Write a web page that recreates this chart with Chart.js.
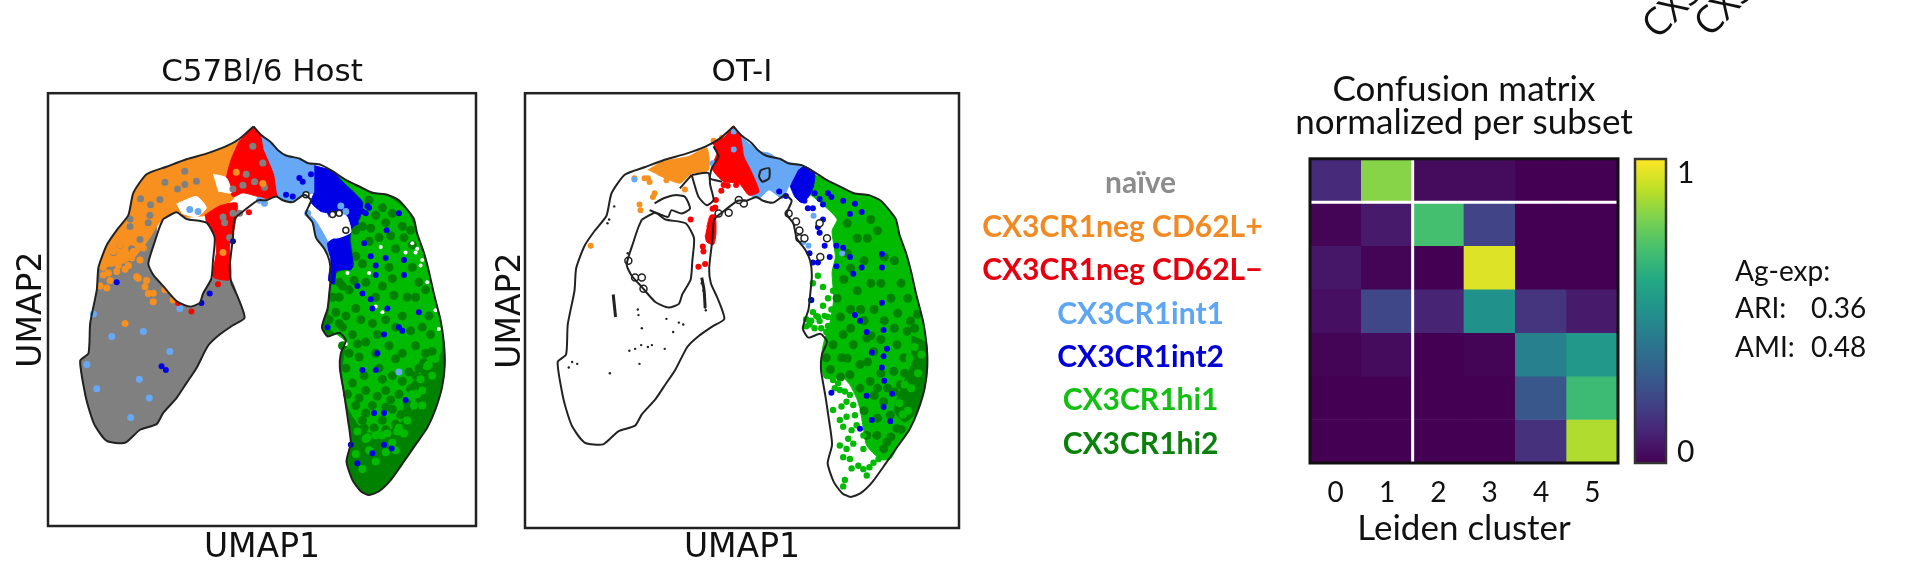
<!DOCTYPE html>
<html>
<head>
<meta charset="utf-8">
<script src="https://cdn.jsdelivr.net/npm/chart.js@4"></script>
<style>
html,body{margin:0;padding:0;background:#fff;width:1920px;height:584px;overflow:hidden;position:relative}
canvas{position:absolute;display:block;filter:blur(0.5px)}
.t{position:absolute;font-family:Lato,sans-serif;color:#111;white-space:pre;font-size:28px;line-height:30px}
.r{position:absolute;font-family:"Open Sans",sans-serif;color:#111;white-space:pre;font-size:38px;line-height:40px;transform-origin:0 100%;transform:rotate(-45deg)}
</style>
</head>
<body>
<canvas id="p1" style="left:0;top:40px"></canvas>
<canvas id="p2" style="left:480px;top:40px"></canvas>
<canvas id="hm" style="left:960px;top:40px"></canvas>
<canvas id="cb" style="left:1620px;top:140px"></canvas>
<span class="r" style="left:1661px;top:4px">CX3CR1</span>
<span class="r" style="left:1713px;top:2px">CX3CR1</span>
<span class="t" style="left:1735px;top:255px">Ag-exp:</span>
<span class="t" style="left:1735px;top:292px">ARI:</span><span class="t" style="left:1811px;top:292px">0.36</span>
<span class="t" style="left:1735px;top:331px">AMI:</span><span class="t" style="left:1811px;top:331px">0.48</span>
<script>
// ---- UMAP outline and regions (arbitrary UMAP units) ----
const UMAP1_RANGE=[143,1432];
const UMAP2_RANGE=[253,1413];
const outline=[[762,342],[785,365],[815,385],[835,405],[860,420],[900,428],[925,440],[965,445],[1000,462],[1040,485],[1085,505],[1120,520],[1165,525],[1200,540],[1225,565],[1245,590],[1255,630],[1275,680],[1290,730],[1305,790],[1325,860],[1335,920],[1338,980],[1330,1040],[1310,1100],[1285,1150],[1250,1195],[1215,1240],[1175,1290],[1140,1320],[1110,1330],[1085,1320],[1060,1290],[1042,1240],[1055,1190],[1045,1120],[1035,1060],[1022,990],[1025,950],[1040,915],[1020,895],[985,905],[968,880],[985,830],[990,790],[995,740],[990,700],[975,670],[950,640],[940,600],[920,575],[935,540],[915,525],[880,545],[850,540],[830,530],[800,540],[775,540],[730,570],[705,590],[700,640],[690,720],[695,760],[715,800],[735,855],[700,875],[660,900],[625,930],[590,990],[560,1030],[530,1070],[490,1110],[470,1140],[420,1155],[375,1190],[320,1185],[285,1145],[270,1110],[255,1060],[240,970],[265,950],[270,870],[290,780],[295,720],[320,660],[350,620],[385,580],[400,520],[440,470],[500,450],[560,430],[620,415],[680,395],[720,375],[762,342]];
const hole=[[490,590],[530,572],[560,590],[620,600],[645,640],[640,700],[635,750],[610,790],[600,815],[570,825],[530,810],[490,770],[460,740],[445,710],[465,650],[480,610],[490,590]];
const grayRegion=[[295,720],[290,780],[270,870],[265,950],[240,970],[255,1060],[270,1110],[285,1145],[320,1185],[375,1190],[420,1155],[470,1140],[490,1110],[530,1070],[560,1030],[590,990],[625,930],[660,900],[700,875],[735,855],[715,800],[695,755],[640,748],[610,790],[600,815],[570,825],[530,810],[490,770],[460,740],[445,710],[465,650],[470,610],[450,640],[400,695],[340,715]];
const orangeRegion=[[295,725],[320,660],[350,620],[385,580],[400,520],[440,470],[500,450],[560,430],[620,415],[680,395],[735,378],[695,430],[680,490],[705,530],[660,565],[620,580],[550,585],[530,570],[490,590],[470,610],[450,640],[400,695],[340,715]];
const redTop=[[762,342],[785,365],[792,400],[825,470],[838,525],[800,535],[775,530],[730,520],[700,530],[680,485],[695,430],[720,380]];
const redStalk=[[615,580],[660,555],[712,548],[705,610],[690,660],[692,752],[640,745],[650,680],[645,630],[622,620]];
const lightBlueTop=[[785,365],[815,385],[835,405],[860,420],[900,428],[925,440],[950,448],[945,520],[915,522],[880,545],[850,540],[835,525],[825,470],[792,400]];
const lightBlueLow=[[920,575],[945,590],[985,650],[995,690],[975,670],[950,640],[940,600]];
const blueRegion=[[945,447],[1000,462],[1030,490],[1090,545],[1080,590],[1055,620],[1052,650],[1060,720],[1012,730],[1005,765],[988,755],[995,700],[985,655],[1005,640],[985,575],[965,570],[935,545],[945,520]];
const greenAll=[[1000,462],[1040,485],[1085,505],[1120,520],[1165,525],[1200,540],[1225,565],[1245,590],[1255,630],[1275,680],[1290,730],[1305,790],[1325,860],[1335,920],[1338,980],[1330,1040],[1310,1100],[1285,1150],[1250,1195],[1215,1240],[1175,1290],[1140,1320],[1110,1330],[1085,1320],[1060,1290],[1042,1240],[1055,1190],[1045,1120],[1035,1060],[1022,990],[1025,950],[1040,915],[1020,895],[985,905],[968,880],[985,830],[990,790],[995,760],[1012,730],[1060,720],[1052,650],[1055,620],[1080,590],[1090,545],[1030,490]];
const greenLight=[[1020,480],[1085,510],[1165,530],[1225,570],[1255,640],[1290,740],[1325,870],[1325,950],[1265,1000],[1240,1100],[1180,1150],[1100,1160],[1050,1100],[1030,1000],[1040,920],[990,880],[1000,760],[1015,735],[1065,720],[1058,650],[1060,620],[1085,590],[1095,545]];
const gapA=[[640,470],[680,480],[695,520],[655,515]];
const gapB=[[530,550],[590,530],[620,560],[590,585],[545,575]];
const gapC=[[990,575],[1040,580],[1055,625],[1020,640],[1000,640],[985,600]];
// scattered cells, host panel
const hostGrayCells=[[495,492],[533,510],[555,498],[590,489],[422,536],[480,538],[452,552],[555,462],[445,600],[390,590],[450,580],[390,610],[420,645],[360,660],[395,670],[340,680],[760,395],[740,470],[765,490],[790,440],[730,500],[700,510],[675,600],[690,640],[670,585],[700,575],[795,505],[720,575]];
const hostOrangeCells=[[370,700],[400,677],[430,668],[395,695],[420,700],[360,659],[340,677],[335,709],[350,731],[415,749],[435,772],[460,789],[460,812],[495,780],[520,807],[320,775],[310,720],[375,870],[365,700],[410,745],[790,495],[710,465],[670,680],[310,740],[330,755],[300,770],[345,700],[385,715],[440,755],[355,715],[325,735],[375,725],[445,790]];
const hostLightBlueCells=[[280,845],[335,905],[430,892],[510,945],[260,980],[418,1020],[290,1045],[448,1070],[392,1122],[540,830],[1200,1000],[795,548],[780,540],[925,575],[595,570],[570,565],[1040,570],[1025,555]];
const hostBlueCells=[[350,760],[485,985],[498,995],[630,790],[605,815],[1200,575],[1163,620],[1095,655],[1115,690],[1160,695],[1130,715],[1215,700],[1050,720],[1130,740],[1215,740],[1075,770],[1090,790],[1115,805],[1165,830],[1120,830],[1260,840],[1200,880],[1210,890],[1155,900],[1135,950],[1090,995],[1130,995],[1220,1075],[1155,1110],[1125,1110],[1120,1218],[1155,1195],[1075,1245],[1178,1205],[985,880],[1055,1195],[860,525],[700,650],[1100,575],[1110,560],[935,470],[910,490],[900,480],[880,530],[1090,570],[1105,555],[1070,600]];
const hostRedCells=[[655,765],[575,838],[535,815],[748,572]];
const hostDarkGreenCells=[[1130,580],[1160,600],[1090,610],[1210,610],[1140,640],[1070,690],[1110,650],[1190,670],[1240,660],[1020,800],[1050,780],[1010,840],[1100,760],[1150,770],[1180,750],[1040,850],[1070,830],[1120,870],[1160,860],[1210,850],[1250,800],[1280,780],[1270,880],[1030,880],[1060,900],[1100,920],[1170,930],[1210,950],[1250,930],[1295,900],[1050,950],[1080,960],[1140,990],[1180,1010],[1230,1000],[1060,1030],[1100,1050],[1160,1050],[1200,1060],[1260,990],[1070,1090],[1120,1090],[1180,1100],[1230,1120],[1090,1130],[1150,1130],[990,860],[1020,760],[1000,800],[1110,540],[1180,575],[1150,560],[1235,620],[1070,620],[1115,615],[1175,635],[1215,640],[1090,710],[1170,720],[1240,720],[1260,760],[1030,770],[1065,755],[1130,800],[1185,795],[1225,800],[1020,870],[1085,860],[1135,900],[1190,880],[1235,890],[1290,850],[1030,930],[1075,925],[1130,950],[1190,965],[1280,950],[1040,990],[1095,1010],[1150,1020],[1210,1025],[1250,1035],[1045,1060],[1135,1065],[1080,1070],[1175,1075],[1225,1085],[1100,1110],[1160,1095],[1205,1115],[1060,1140],[1300,945],[1275,975],[1250,1010],[1235,1045],[1225,1100],[1190,1140],[1160,1155],[1125,1150],[1095,1150]];
const hostLightGreenCells=[[1100,1180],[1150,1170],[1200,1150],[1070,1220],[1130,1240],[1190,1210],[1270,1050],[1290,980],[1240,1060],[1110,1210],[1160,1215],[1090,1260],[980,547],[1000,493],[1050,502],[1080,547],[1060,529],[1310,965],[1285,985],[1265,1020],[1255,1060],[1245,1090],[1225,1130],[1195,1160],[1165,1165],[1130,1170],[1105,1175],[1075,1160],[1300,1010],[1270,1090],[1215,1165],[1180,1190]];
const hostWhiteFlecks=[[1220,680],[1250,680],[1265,715],[1145,665],[1130,825],[1270,700],[1255,670],[1285,760],[1310,835],[1320,885],[1150,840],[1040,925],[1110,735],[1045,735],[1240,655]];
const hostOpenCells=[[920,525],[1000,578],[1020,575],[1040,620]];
// scattered cells, OT-I panel
const otiOrangeRegion=[[508,458],[553,435],[628,422],[683,399],[688,458],[638,467],[603,493],[538,471]];
const otiOrangeCells=[[468,480],[498,480],[513,490],[528,520],[523,530],[483,550],[486,565],[338,660],[508,480],[618,510],[563,485],[703,380],[728,372]];
const otiRedRegion=[[763,339],[783,368],[793,422],[813,458],[838,516],[808,525],[778,493],[733,489],[698,453],[713,413],[703,386],[733,372]];
const otiRedStalk=[[683,610],[693,579],[708,579],[710,628],[703,657],[683,650],[678,632]];
const otiRedCells=[[708,558],[700,561],[671,662],[673,675],[658,716],[678,709],[635,590],[710,538],[726,513],[733,498],[770,498],[745,500]];
const otiLightBlue=[[783,368],[838,408],[868,413],[908,435],[963,444],[968,458],[928,498],[908,534],[868,511],[838,534],[813,525],[838,516],[813,458],[793,422]];
const otiLightBlueCells=[[468,483],[700,440],[970,650],[985,660],[1085,680],[1000,580],[763,355],[763,403]];
const otiBlue=[[953,460],[973,448],[1003,465],[1000,500],[985,530],[965,545],[945,530],[930,500]];
const otiBlueCells=[[1003,520],[1018,535],[983,560],[958,525],[1043,520],[1088,540],[1028,590],[1013,610],[1018,625],[1038,640],[1068,660],[1048,690],[1013,705],[998,705],[1068,715],[988,680],[918,527],[898,515],[1033,660],[1053,530],[973,540],[998,560],[1028,550],[1123,548],[1143,570],[1108,575],[1203,682],[1088,665],[1108,690],[1143,718],[1203,718],[1118,735],[1203,812],[1123,845],[1138,860],[1158,890],[1208,885],[1173,945],[1218,935],[1208,955],[1203,985],[1210,1020],[1233,1055],[1208,1090],[1173,1125],[1138,1148],[1053,1052],[993,805],[1228,1128],[1158,1060]];
const otiGreen=[[1000,470],[1040,485],[1085,505],[1120,520],[1165,525],[1200,540],[1225,565],[1245,590],[1255,630],[1275,680],[1290,730],[1305,790],[1325,860],[1335,920],[1338,980],[1330,1040],[1310,1100],[1285,1150],[1250,1195],[1228,1229],[1198,1229],[1158,1193],[1148,1148],[1138,1094],[1128,1067],[1108,1031],[1088,1013],[1033,1013],[1023,960],[1030,920],[1050,860],[1060,800],[1055,730],[1065,690],[1055,620],[1070,590],[1040,560],[1000,530],[970,510],[990,480]];
const otiDarkPatch=[[1290,900],[1335,920],[1338,980],[1330,1040],[1300,1110],[1270,1130],[1240,1100],[1260,1040],[1290,980]];
const otiDarkCells=[[1088,897],[1058,924],[1083,959],[1118,924],[1158,906],[1038,959],[1138,977],[1108,1004],[1178,942],[1248,924],[1278,888],[1288,861],[1308,843],[1268,959],[1238,995],[1168,1022],[1258,1031],[1208,1076],[1288,1076],[1268,1103],[1188,1166],[1218,1184],[1158,1166],[1208,1202],[1248,1148],[1228,1112],[1138,1040],[1130,640],[1100,600],[1150,700],[1090,750],[1190,620],[1230,800],[1130,780],[1180,830],[1240,880],[1110,830],[1070,800],[1170,900],[1160,640],[1200,760],[1260,760],[1100,680],[1170,590],[1210,690],[1240,700],[1110,720],[1170,760],[1080,850],[1150,860],[1210,860],[1280,800],[1300,880],[1100,960],[1200,1000],[1050,990],[1080,1010],[1160,970],[1220,1040],[1180,1060],[1150,1100],[1190,1120],[1240,1050],[1260,1150],[1230,1170],[1270,1000],[1190,1040],[1110,880],[1200,910],[1140,830],[1250,840]];
const otiLightCells=[[1300,930],[1285,960],[1270,1030],[1255,1080],[1290,1040],[1310,1000],[1280,1100],[1320,950],[1265,1110]];
const otiFringeCells=[[998,837],[1018,861],[988,870],[978,856],[1008,847],[1033,847],[1058,852],[1043,874],[1058,1018],[1073,1027],[1063,1040],[1078,1045],[1093,1049],[1108,1058],[1058,1098],[1083,1089],[1098,1076],[1118,1085],[1078,1125],[1098,1116],[1123,1112],[1088,1143],[1113,1152],[1128,1139],[1103,1175],[1078,1193],[1098,1202],[1118,1188],[1088,1224],[1108,1229],[1133,1247],[1113,1254],[1148,1256],[1166,1251],[1178,1239],[1158,1273],[1093,1285],[1088,1302],[1148,1202],[1168,1184],[1193,1229],[1208,1224],[1148,1166],[993,805],[998,760],[1013,740],[1028,770],[1043,800],[1028,820],[1013,850],[993,860],[978,875],[1003,880],[1023,880],[1043,850],[1058,780],[1053,830],[1038,890]];
const loopA=[[528,547],[553,534],[588,525],[618,529],[633,561],[608,574],[578,565],[568,583],[538,574],[513,565]];
const loopB=[[638,471],[658,529],[683,552],[703,538],[693,498],[688,466],[638,471]];
const loopC=[[703,395],[718,422],[698,453],[693,480],[728,489]];
const loopD=[[603,507],[638,471]];
const loopE=[[405,790],[412,850]];
const loopF=[[668,745],[675,780],[678,825]];
const loopG=[[843,458],[868,453],[868,480],[848,489],[838,475],[843,458]];
const openCellsOti=[[718,574],[748,572],[793,547],[778,538],[926,574],[948,595],[958,619],[958,640],[973,640],[1018,600],[1040,640],[1020,690],[450,700],[470,745],[490,745],[495,775]];
const specks=[[478,830],[480,845],[453,940],[488,925],[508,930],[483,975],[558,935],[583,890],[613,870],[563,855],[283,970],[273,985],[298,975],[388,600],[408,555],[678,825],[673,780],[668,760],[393,590],[448,680],[520,925],[470,935],[600,865],[490,880],[680,832],[395,1000]];
// ---- confusion matrix ----
const subsets=['naïve','CX3CR1neg CD62L+','CX3CR1neg CD62L−','CX3CR1int1','CX3CR1int2','CX3CR1hi1','CX3CR1hi2'];
const subsetColors=['#8c8c8c','#f28a24','#e6000f','#5ea6f2','#0000d6','#12c012','#0b800b'];
const clusters=['0','1','2','3','4','5'];
const rowNaive=[0.12,0.82,0.03,0.03,0.00,0.00];
const rowNegPlus=[0.01,0.07,0.70,0.20,0.00,0.00];
const rowNegMinus=[0.06,0.01,0.00,0.95,0.00,0.00];
const rowInt1=[0.04,0.21,0.10,0.50,0.15,0.07];
const rowInt2=[0.01,0.03,0.00,0.01,0.43,0.53];
const rowHi1=[0.00,0.00,0.00,0.00,0.27,0.68];
const rowHi2=[0.00,0.00,0.00,0.00,0.14,0.88];
const matrixRows=[rowNaive,rowNegPlus,rowNegMinus,rowInt1,rowInt2,rowHi1,rowHi2];
const splitCluster=2, splitSubset=1;
const viridis=['#440154','#482475','#414487','#355f8d','#2a788e','#21918c','#22a884','#44bf70','#7ad151','#bddf26','#fde725'];

function hex(c){return [1,3,5].map(i=>parseInt(c.substr(i,2),16));}
function cmap(v){const t=Math.max(0,Math.min(1,v))*10,i=Math.min(9,Math.floor(t)),f=t-i,a=hex(viridis[i]),b=hex(viridis[i+1]);
  return 'rgb('+a.map((x,k)=>Math.round(x+(b[k]-x)*f)).join(',')+')';}
const xy=a=>a.map(p=>({x:p[0],y:p[1]}));
Chart.defaults.animation=false;
Chart.defaults.responsive=false;
const frame=(w,col)=>({id:'frame',afterDraw(c){const a=c.chartArea,g=c.ctx;g.save();g.strokeStyle=col;g.lineWidth=w;g.strokeRect(a.left,a.top,a.right-a.left,a.bottom-a.top);g.restore();}});
const poly=(pts,color)=>({data:xy(pts),showLine:true,fill:'shape',backgroundColor:color,borderColor:color,borderWidth:1,pointRadius:0,tension:0.2});
const line=(pts,w)=>({data:xy(pts),showLine:true,fill:false,borderColor:'#222',borderWidth:w||2,pointRadius:0,tension:0.2});
const dots=(pts,color,r,edge)=>({data:xy(pts),showLine:false,backgroundColor:color,borderColor:edge||color,borderWidth:edge?1.5:0,pointRadius:r});
const GRAY='#808080',ORANGE='#f7901e',RED='#ff0000',LBLUE='#66a8f5',BLUE='#0000e6',LGREEN='#00bb00',DGREEN='#008200';
const AXF={family:'DejaVu Sans',size:33};

function umap(id,w,h,pad,left,bottom,title,ds){
  const cv=document.getElementById(id);cv.width=w;cv.height=h;
  ds.forEach((d,i)=>{d.order=ds.length-i;});
  return new Chart(cv,{type:'scatter',data:{datasets:ds},plugins:[frame(2.5,'#222')],options:{
    layout:{padding:pad},
    plugins:{legend:{display:false},tooltip:{enabled:false},
      title:{display:true,fullSize:false,text:title,color:'#111',font:{family:'DejaVu Sans',size:31,weight:'normal'},padding:{top:14,bottom:2}}},
    scales:{
      x:{min:UMAP1_RANGE[0],max:UMAP1_RANGE[1],ticks:{display:false},grid:{display:false},border:{display:false},
         title:{display:true,text:'UMAP1',color:'#111',font:AXF,padding:0},afterFit(s){s.height=bottom;}},
      y:{reverse:true,min:UMAP2_RANGE[0],max:UMAP2_RANGE[1],ticks:{display:false},grid:{display:false},border:{display:false},
         title:{display:true,text:'UMAP2',color:'#111',font:AXF,padding:0},afterFit(s){s.width=left;}}
    }}});
}
umap('p1',500,540,{left:13,right:24,top:0,bottom:12},35,42,'C57Bl/6 Host',[
  poly(grayRegion,GRAY),poly(orangeRegion,ORANGE),poly(redTop,RED),poly(redStalk,RED),
  poly(lightBlueTop,LBLUE),poly(lightBlueLow,LBLUE),poly(greenAll,DGREEN),poly(greenLight,LGREEN),
  dots(hostDarkGreenCells,DGREEN,4.5),dots(hostLightGreenCells,LGREEN,4),poly(blueRegion,BLUE),
  poly(gapA,'#fff'),poly(gapB,'#fff'),poly(gapC,'#fff'),
  dots(hostWhiteFlecks,'#fff',2),dots(hostGrayCells,GRAY,3.5),dots(hostOrangeCells,ORANGE,3.5),
  dots(hostLightBlueCells,LBLUE,3.5),dots(hostBlueCells,BLUE,3),dots(hostRedCells,RED,3),
  dots(hostOpenCells,'#fff',3,'#222'),
  line(outline,2),{...poly(hole,'#fff'),borderColor:'#222',borderWidth:2}
]);
umap('p2',500,540,{left:12,right:21,top:0,bottom:12},33,40,'OT-I',[
  poly(otiGreen,LGREEN),poly(otiDarkPatch,DGREEN),dots(otiDarkCells,DGREEN,4.5),dots(otiLightCells,LGREEN,4),dots(otiFringeCells,LGREEN,3.2),
  poly(otiOrangeRegion,ORANGE),dots(otiOrangeCells,ORANGE,3),poly(otiLightBlue,LBLUE),poly(otiRedRegion,RED),poly(otiRedStalk,RED),
  dots(otiRedCells,RED,3),dots(otiLightBlueCells,LBLUE,3),poly(otiBlue,BLUE),dots(otiBlueCells,BLUE,3),
  dots(specks,'#222',1.2),dots(openCellsOti,'#fff',3.5,'#222'),
  line(loopA,2),line(loopB,2),line(loopC,2),line(loopD,2),line(loopE,3),line(loopF,3),line(loopG,2),line(hole,2),line(outline,2)
]);
// confusion matrix: each cell is a floating bar; an empty right axis keeps the title centred over the cells
const hmCv=document.getElementById('hm');hmCv.width=1008;hmCv.height=530;
new Chart(hmCv,{type:'bar',data:{labels:subsets,datasets:matrixRows.map((row,r)=>({
    data:row.map((v,c)=>({x:[c,c+1],y:subsets[r],v:v})),
    backgroundColor:ctx=>cmap(ctx.raw?ctx.raw.v:0),borderWidth:0,barPercentage:1,categoryPercentage:1,grouped:false}))},
  plugins:[frame(3,'#111'),{id:'split',afterDatasetsDraw(c){const g=c.ctx,a=c.chartArea,x=c.scales.x.getPixelForValue(splitCluster),
      y=(c.scales.y.getPixelForTick(splitSubset-1)+c.scales.y.getPixelForTick(splitSubset))/2;
      g.save();g.strokeStyle='#fff';g.lineWidth=3;g.beginPath();g.moveTo(x,a.top);g.lineTo(x,a.bottom);g.moveTo(a.left,y);g.lineTo(a.right,y);g.stroke();g.restore();}}],
  options:{indexAxis:'y',layout:{padding:{right:0,top:0,left:0,bottom:0}},
    plugins:{legend:{display:false},tooltip:{enabled:false},
      title:{display:true,text:['Confusion matrix','normalized per subset'],color:'#111',font:{family:'Lato',size:35,weight:'normal',lineHeight:0.94},padding:{top:33,bottom:20}}},
    scales:{
      x:{type:'linear',min:0,max:clusters.length,grid:{display:false},border:{display:false},
        afterBuildTicks(s){s.ticks=clusters.map((_,i)=>({value:i+0.5}));},
        ticks:{color:'#111',font:{family:'Lato',size:28},padding:5,maxRotation:0,autoSkip:false,callback(v){return clusters[Math.floor(v)];}},
        title:{display:true,text:'Leiden cluster',color:'#111',font:{family:'Lato',size:35},padding:{top:0,bottom:20}},afterFit(s){s.height=107;}},
      y:{type:'category',grid:{display:false},border:{display:false},
        ticks:{color:c=>subsetColors[c.index],font:{family:'Lato',size:30,weight:'bold'},crossAlign:'center',padding:3,labelOffset:3,autoSkip:false,
          callback(v,i){const s=subsets[i];return s.length>12?s+'     ':s;}},afterFit(s){s.width=350;}},
      spacer:{type:'linear',position:'right',grid:{display:false},border:{display:false},ticks:{display:false},afterFit(s){s.width=350;}}
    }}});
// colour bar
const cbCv=document.getElementById('cb');cbCv.width=90;cbCv.height=340;
const cbMin=-0.04,cbMax=1.05;
new Chart(cbCv,{type:'bar',data:{labels:[''],datasets:[{data:[[cbMin,cbMax]],barPercentage:1,categoryPercentage:1,borderWidth:0,
    backgroundColor(ctx){const a=ctx.chart.chartArea;if(!a)return '#440154';const g=ctx.chart.ctx.createLinearGradient(0,a.bottom,0,a.top);
      viridis.forEach((c,i)=>g.addColorStop(i/10,c));return g;}}]},
  plugins:[frame(2.5,'#333')],
  options:{layout:{padding:{top:19,bottom:17,left:15,right:0}},plugins:{legend:{display:false},tooltip:{enabled:false},title:{display:false}},
    scales:{x:{display:false},
      y:{position:'right',min:cbMin,max:cbMax,grid:{display:false},border:{display:false},afterBuildTicks(s){s.ticks=[{value:0},{value:1}];},
         ticks:{color:'#111',font:{family:'Lato',size:30},padding:3,autoSkip:false,callback(v){return String(v);}},afterFit(s){s.width=44;s.paddingTop=0;s.paddingBottom=0;}}}}});
</script>
</body>
</html>
